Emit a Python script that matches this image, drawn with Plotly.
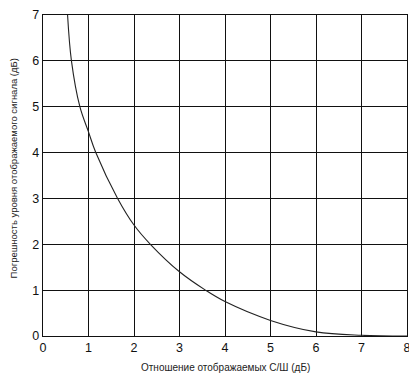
import plotly.graph_objects as go

snr_db = [0.54, 0.625, 0.81, 1.0, 1.16, 1.64, 2.0, 2.36, 3.0, 3.57, 4.0, 5.0, 6.0, 7.0, 8.0]
error_db = [7.0, 6.0, 5.0, 4.45, 4.0, 3.0, 2.42, 2.0, 1.40, 1.0, 0.75, 0.34, 0.09, 0.015, 0.0]

x_ticks = [0, 1, 2, 3, 4, 5, 6, 7, 8]
y_ticks = [0, 1, 2, 3, 4, 5, 6, 7]

x_title = "Отношение отображаемых С/Ш (дБ)"
y_title = "Погрешность уровня отображаемого сигнала (дБ)"

fig = go.Figure()
fig.add_trace(go.Scatter(x=snr_db, y=error_db, mode="lines",
                         line=dict(color="#222222", width=1.1, shape="spline", smoothing=1.0),
                         showlegend=False))

tick_font = dict(family="Liberation Sans, Arial", size=12.5, color="#111111")

fig.update_layout(
    width=409, height=372,
    margin=dict(l=35, r=10, t=7, b=44),
    paper_bgcolor="white", plot_bgcolor="white",
    xaxis=dict(range=[0, 8], tickvals=x_ticks, showgrid=True, gridcolor="#111111", gridwidth=1.4,
               showline=True, linecolor="#111111", linewidth=1.4, mirror=True, zeroline=False,
               ticks="", tickfont=tick_font, automargin=False),
    yaxis=dict(range=[0, 7], tickvals=y_ticks, showgrid=True, gridcolor="#111111", gridwidth=1.4,
               showline=True, linecolor="#111111", linewidth=1.4, mirror=True, zeroline=False,
               ticks="", tickfont=tick_font, automargin=False),
    annotations=[
        dict(text=x_title, xref="paper", yref="paper", x=0.5, y=-0.0966, yanchor="middle",
             xanchor="center", showarrow=False,
             font=dict(family="Liberation Sans, Arial", size=10, color="#222222")),
        dict(text=y_title, xref="paper", yref="paper", x=-0.0824, y=0.522, xanchor="center",
             yanchor="middle", textangle=-90, showarrow=False,
             font=dict(family="Liberation Sans, Arial", size=9.5, color="#222222")),
    ],
)

fig.write_html("out.html")
